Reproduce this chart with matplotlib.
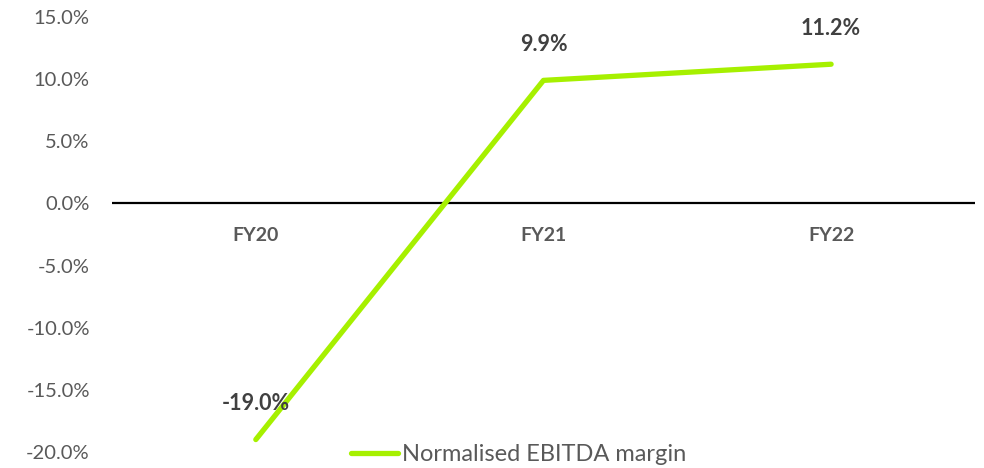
import matplotlib
matplotlib.use("Agg")
import matplotlib.pyplot as plt
from matplotlib.ticker import FuncFormatter

categories = ["FY20", "FY21", "FY22"]
margin = [-19.0, 9.9, 11.2]
yticks = [-20, -15, -10, -5, 0, 5, 10, 15]

LINE = "#A6F000"
GREY = "#595959"
DARK = "#404040"

plt.rcParams["font.family"] = ["Lato", "DejaVu Sans"]

fig = plt.figure(figsize=(9.84, 4.68), dpi=100)
ax = fig.add_axes([0.1138, 0.0342, 0.877, 0.9295])

x = list(range(len(categories)))
ax.plot(x, margin, color=LINE, lw=3.8, solid_capstyle="round",
        label="Normalised EBITDA margin")
for xi, v in zip(x, margin):
    ax.annotate(f"{v:.1f}%", (xi, v), xytext=(0, 26), textcoords="offset points",
                ha="center", va="center", fontsize=15.5, fontweight="bold", color=DARK)

ax.axhline(0, color="black", lw=1.6, zorder=1)
for xi, c in zip(x, categories):
    ax.text(xi, -2.6, c, ha="center", va="center", fontsize=14,
            fontweight="bold", color=GREY)

ax.set_xlim(-0.5, len(categories) - 0.5)
ax.set_ylim(-20, 15)
ax.set_yticks(yticks)
ax.yaxis.set_major_formatter(FuncFormatter(lambda v, _: f"{v:.1f}%"))
ax.tick_params(axis="y", length=0, labelsize=14.5, labelcolor=GREY, pad=16)
ax.set_xticks([])
for s in ax.spines.values():
    s.set_visible(False)

leg = fig.legend(loc="center", bbox_to_anchor=(0.527, 0.028), frameon=False,
                 fontsize=17, handlelength=2.0, handletextpad=0.15)
for t in leg.get_texts():
    t.set_color(GREY)

fig.savefig("out.png", dpi=100)
